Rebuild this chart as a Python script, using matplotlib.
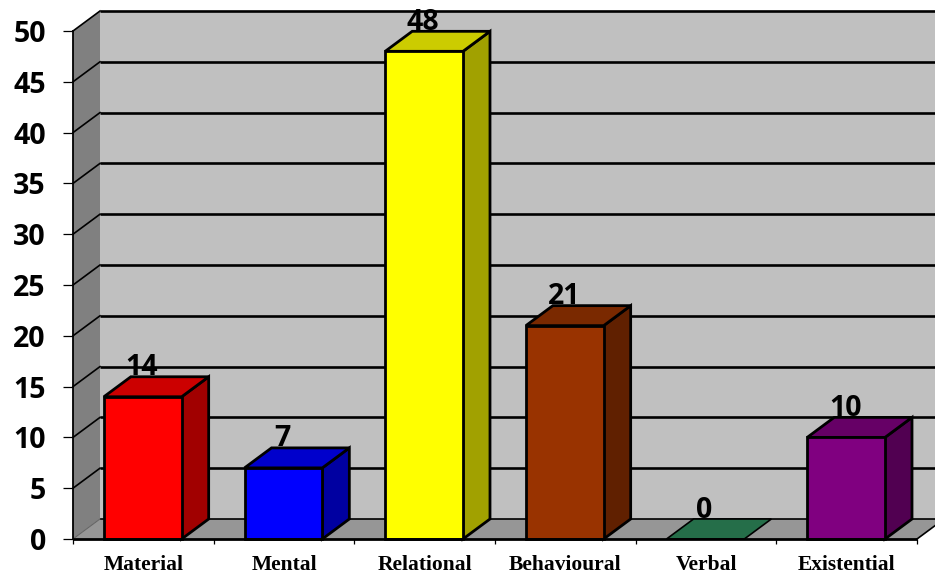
import matplotlib
matplotlib.use("Agg")
import matplotlib.pyplot as plt
from matplotlib.patches import Polygon
from matplotlib.colors import to_rgb

categories = ["Material", "Mental", "Relational", "Behavioural", "Verbal", "Existential"]
values = [14, 7, 48, 21, 0, 10]
bar_colors = ["#ff0000", "#0000ff", "#ffff00", "#993300", "#339966", "#800080"]
y_ticks = [0, 5, 10, 15, 20, 25, 30, 35, 40, 45, 50]

W, H = 935, 575
# pixel box of the front plane
LEFT, RIGHT, BOTTOM, TOP = 73, 917, 539, 31
# 3d depth offset, in data units
DX = 27 / ((RIGHT - LEFT) / 6)
DY = 20 / ((BOTTOM - TOP) / 50)
BAR_W = 0.553


def shade(color, f):
    return tuple(c * f for c in to_rgb(color))


fig = plt.figure(figsize=(W / 100, H / 100), dpi=100)
ax = fig.add_axes([LEFT / W, 1 - BOTTOM / H, (RIGHT - LEFT) / W, (BOTTOM - TOP) / H])
ax.set_xlim(0, 6)
ax.set_ylim(0, 50)
ax.patch.set_visible(False)
for s in ax.spines.values():
    s.set_visible(False)


def poly(pts, fc, ec="black", lw=2.0, z=1):
    ax.add_patch(Polygon(pts, closed=True, facecolor=fc, edgecolor=ec, linewidth=lw,
                         joinstyle="miter", clip_on=False, zorder=z))


# walls and floor
poly([(DX, DY), (6 + DX, DY), (6 + DX, 50 + DY), (DX, 50 + DY)], "#c0c0c0", "none", 0, 1)
poly([(0, 0), (DX, DY), (DX, 50 + DY), (0, 50)], "#808080", "none", 0, 1)
poly([(0, 0), (6, 0), (6 + DX, DY), (DX, DY)], "#969696", "none", 0, 1)

# gridlines run along the back wall and down the side wall
for t in y_ticks:
    lw = 1.2 if t == 0 else 1.9
    ax.plot([DX, 6 + DX], [t + DY, t + DY], color="black", lw=lw, clip_on=False, zorder=2,
            solid_capstyle="butt")
    if t > 0:
        ax.plot([0, DX], [t, t + DY], color="black", lw=1.2, clip_on=False, zorder=2)
ax.plot([0, DX], [0, DY], color="#606060", lw=0.7, clip_on=False, zorder=2)
ax.plot([0, 0], [0, 50], color="black", lw=1.3, clip_on=False, zorder=3)
ax.plot([6, 6 + DX], [0, DY], color="black", lw=1.2, clip_on=False, zorder=3)

# bars
for i, (v, c) in enumerate(zip(values, bar_colors)):
    x0 = i + 0.5 - BAR_W / 2 - 0.004
    x1 = x0 + BAR_W
    z = 4 + i
    if v > 0:
        poly([(x1, 0), (x1 + DX, DY), (x1 + DX, v + DY), (x1, v)], shade(c, 0.63), z=z)
        poly([(x0, v), (x1, v), (x1 + DX, v + DY), (x0 + DX, v + DY)], shade(c, 0.8), z=z)
        poly([(x0, 0), (x1, 0), (x1, v), (x0, v)], c, z=z)
    else:
        poly([(x0, v), (x1, v), (x1 + DX, v + DY), (x0 + DX, v + DY)], shade(c, 0.72), lw=1.2, z=z)
    ax.annotate(str(v), (i + 0.5, v + DY), xytext=(-1, -4), textcoords="offset points",
                ha="center", va="bottom", fontsize=20.5, fontweight="bold", family="Open Sans",
                color="black", zorder=20, annotation_clip=False)

# front edge of the floor
ax.plot([0, 6], [0, 0], color="black", lw=2.0, clip_on=False, zorder=15, solid_capstyle="butt")

ax.set_yticks(y_ticks)
ax.set_yticklabels([str(t) for t in y_ticks], fontsize=20.5, fontweight="bold", family="Open Sans")
ax.tick_params(axis="y", length=7.5, width=0.9, pad=12)
ax.set_xticks(range(7))
ax.set_xticklabels([])
ax.tick_params(axis="x", length=3.5, width=0.9)
ax.set_xticks([i + 0.5 for i in range(6)], minor=True)
ax.set_xticklabels(categories, minor=True, fontsize=15.5, fontweight="bold", family="Liberation Serif")
ax.tick_params(axis="x", which="minor", length=0, pad=11.5)

fig.savefig("out.png", dpi=100)
